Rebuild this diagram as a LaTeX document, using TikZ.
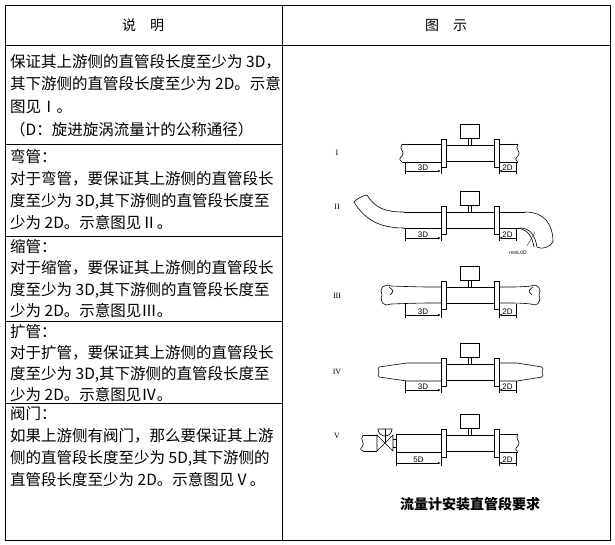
\documentclass[tikz,border=0pt]{standalone}
\usepackage{fontspec}
\setmainfont{Liberation Serif}
\setsansfont{Liberation Sans}
\newfontfamily\cjk{Noto Sans CJK SC}
\usetikzlibrary{arrows.meta}
\newcommand\flmeter{%
  \draw[fill=white] (441,-14) rectangle (446,14);
  \draw[fill=white] (494,-14) rectangle (499,14);
  \draw (446,-8) -- (494,-8) (446,8) -- (494,8);
  \draw (468,-8) -- (468,-15) (471,-8) -- (471,-15);
  \draw (460,-15) rectangle (479,-29);
}
\newcommand\dims[3]{% start, label, y
  \draw (#1,9) -- (#1,#3+3) (441,14) -- (441,#3+3) (499,14) -- (499,#3+3) (516,9) -- (516,#3+3);
  \draw[-{Latex[length=3pt]}] (#1,#3) -- (441,#3);
  \draw[{Latex[length=3pt]}-] (499,#3) -- (516,#3);
  \node[dimlab] at ({(#1+441)/2},#3) {#2};
  \node[dimlab] at (507.5,#3) {2D};
}
\begin{document}
\begin{tikzpicture}[x=1pt,y=-1pt,
  txt/.style={anchor=base west,inner sep=0pt,font=\cjk\fontsize{15.5}{17}\selectfont},
  dimlab/.style={anchor=south,inner sep=0.5pt,font=\sffamily\fontsize{8}{9}\selectfont},
  rom/.style={font=\fontsize{8}{9}\selectfont},
  pipe/.style={line width=0.6pt}]
\useasboundingbox (0,0) rectangle (615,544);
\draw[line width=0.8pt] (5,5) rectangle (610,540);
\draw (5,45) -- (610,45) (282,5) -- (282,540);
\foreach \y in {144,236,321,403} \draw (5,\y) -- (282,\y);
\node[font=\cjk\fontsize{14}{16}\selectfont] (h1) at (143,25) {说\quad 明};
\node[font=\cjk\fontsize{14}{16}\selectfont] (h2) at (446,25) {图\quad 示};
\node[txt] at (10,67) {保证其上游侧的直管段长度至少为 3D，};
\node[txt] at (10,89) {其下游侧的直管段长度至少为 2D。示意};
\node[txt] at (10,112) {图见Ⅰ。};
\node[txt] at (10,135) {（D：旋进旋涡流量计的公称通径）};
\node[txt] at (10,162) {弯管：};
\node[txt] at (10,184) {对于弯管，要保证其上游侧的直管段长};
\node[txt] at (10,206) {度至少为 3D,其下游侧的直管段长度至};
\node[txt] at (10,228) {少为 2D。示意图见Ⅱ。};
\node[txt] at (10,252) {缩管：};
\node[txt] at (10,273) {对于缩管，要保证其上游侧的直管段长};
\node[txt] at (10,295) {度至少为 3D,其下游侧的直管段长度至};
\node[txt] at (10,316) {少为 2D。示意图见Ⅲ。};
\node[txt] at (10,337) {扩管：};
\node[txt] at (10,358) {对于扩管，要保证其上游侧的直管段长};
\node[txt] at (10,379) {度至少为 3D,其下游侧的直管段长度至};
\node[txt] at (10,400) {少为 2D。示意图见Ⅳ。};
\node[txt] at (10,419) {阀门：};
\node[txt] at (10,441) {如果上游侧有阀门，那么要保证其上游};
\node[txt] at (10,463) {侧的直管段长度至少为 5D,其下游侧的};
\node[txt] at (10,485) {直管段长度至少为 2D。示意图见Ⅴ。};
\node[font=\cjk\bfseries\fontsize{14}{16}\selectfont] (cap) at (470,504) {流量计安装直管段要求};
% I
\node[rom] (r1) at (337,153) {I};
\begin{scope}[shift={(0,153)},pipe]
\draw (402,-9) -- (441,-9) (402,9) -- (441,9) (499,-9) -- (518,-9) (499,9) -- (518,9);
\draw (402,-9) .. controls (398,-4) and (406,-1) .. (402,3) .. controls (399,6) .. (402,9);
\draw (518,-9) .. controls (514,-4) and (522,-1) .. (518,3) .. controls (515,6) .. (518,9);
\flmeter \dims{405}{3D}{18}
\end{scope}
% II
\node[rom] (r2) at (337,207) {II};
\begin{scope}[shift={(0,220)},pipe]
\draw (404,-8) -- (441,-8) (404,8) -- (441,8) (499,-8) -- (525,-8) (499,8) -- (520,8);
\draw (404,-8) .. controls (385,-8) and (375,-12) .. (367,-25)
      (404,8) .. controls (380,8) and (365,0) .. (354,-18);
\draw (354,-18) .. controls (358,-22) and (362,-24) .. (367,-25);
\draw (525,-8) .. controls (545,-8) and (553,5) .. (553,22)
      (520,8) .. controls (530,8) and (535,15) .. (537,27);
\draw (537,27) .. controls (542,30) and (550,27) .. (553,22);
\draw (518,8) .. controls (528,10) and (532,16) .. (534,27);
\flmeter \dims{405}{3D}{18}
\draw[line width=0.3pt] (527,26) -- (535,12);
\node[font=\sffamily\fontsize{5}{6}\selectfont] (ml) at (518,33) {minL0D};
\end{scope}
% III
\node[rom] (r3) at (337,296) {III};
\begin{scope}[shift={(0,295)},pipe]
\draw (391,-9) .. controls (420,-8) .. (441,-8) (391,9) .. controls (420,8) .. (441,8);
\draw (499,-8) .. controls (520,-8) .. (531,-9) (499,8) .. controls (520,8) .. (531,9);
\draw (391,-9) .. controls (383,-12) and (379,-6) .. (382,0) .. controls (379,8) and (385,12) .. (391,9);
\draw (531,-9) .. controls (538,-12) and (542,-6) .. (539,0) .. controls (542,8) and (536,12) .. (531,9);
\draw (389,-8) .. controls (394,-4) .. (390,0);
\draw (533,-8) .. controls (528,-4) .. (532,0);
\flmeter \dims{405}{3D}{20}
\end{scope}
% IV
\node[rom] (r4) at (337,372) {IV};
\begin{scope}[shift={(0,372)},pipe]
\draw (379,-5) -- (407,-9) -- (441,-9) (379,5) -- (407,9) -- (441,9);
\draw (499,-9) -- (517,-9) -- (542,-5) (499,9) -- (517,9) -- (542,5);
\draw (379,-5) -- (378,-3) -- (379,0) -- (378,3) -- (379,5);
\draw (542,-5) -- (543,-3) -- (542,0) -- (543,3) -- (542,5);
\flmeter \dims{405}{3D}{18}
\end{scope}
% V
\node[rom] (r5) at (337,436) {V};
\begin{scope}[shift={(0,443)},pipe]
\draw (363,-8) -- (377,-8) (363,8) -- (377,8);
\draw (363,-8) .. controls (359,-3) and (366,0) .. (362,4) .. controls (360,6) .. (363,8);
\draw (377,-8) -- (393,8) -- (393,-8) -- (377,8) -- cycle;
\draw (385,0) -- (385,-14);
\draw (378,-14) -- (392,-14) arc[start angle=0,end angle=180,radius=7];
\draw (396,-9) -- (441,-9) (396,9) -- (441,9) (499,9) -- (518,9) (499,-9) -- (518,-9) (396,-9) -- (396,9) (393,-4) -- (396,-4) (393,4) -- (396,4);
\draw (518,-9) .. controls (514,-4) and (522,-1) .. (518,3) .. controls (515,6) .. (518,9);
\flmeter \dims{396}{5D}{20}
\end{scope}
\end{tikzpicture}
\end{document}
